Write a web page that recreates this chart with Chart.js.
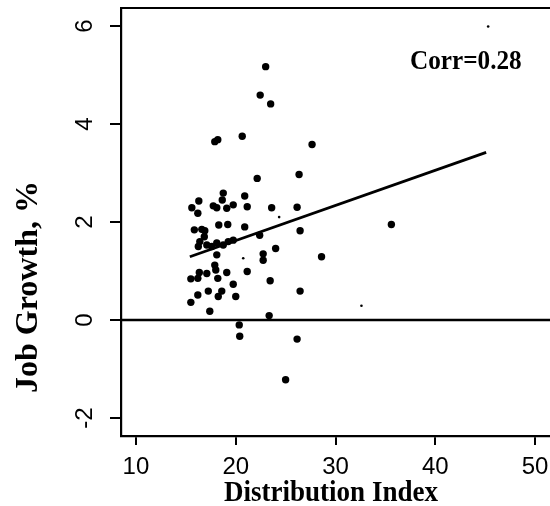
<!DOCTYPE html>
<html>
<head>
<meta charset="utf-8">
<script src="https://cdn.jsdelivr.net/npm/chart.js@4.4.1/dist/chart.umd.min.js"></script>
<style>
  html, body { margin: 0; padding: 0; background: #fff; overflow: hidden; }
  #wrap { width: 560px; height: 506px; }
</style>
</head>
<body>
<div id="wrap"><canvas id="chart" width="560" height="506"></canvas></div>
<script>
// distribution index vs job growth
const distIndex = [
  15.6, 16.3, 16.2, 17.75, 18.1, 18.75, 18.65, 19.1, 19.75, 15.85,
  16.6, 16.9, 18.3, 19.2, 16.85, 16.4, 16.25, 17.1, 17.6, 18.1,
  18.75, 19.25, 19.75, 18.1, 17.9, 18.0, 19.1, 16.35, 16.2, 17.1,
  15.5, 18.2, 16.2, 17.25, 18.6, 18.25, 19.75, 15.5, 17.4, 20.0,
  20.9, 21.15, 23.6, 26.15, 20.9, 26.45, 22.4, 24.0, 22.75, 22.75,
  28.6, 21.15, 23.45, 26.45, 23.35, 20.35, 20.4, 26.15, 25.0, 35.6,
  23.0, 22.45, 23.5, 20.65, 17.9, 18.2, 27.65, 22.15, 26.35
];
const jobGrowth = [
  2.29, 2.43, 2.18, 2.33, 2.29, 2.59, 2.45, 2.28, 2.35, 1.84,
  1.85, 1.82, 1.94, 1.95, 1.70, 1.60, 1.50, 1.53, 1.50, 1.57,
  1.53, 1.60, 1.63, 1.33, 1.12, 1.02, 0.97, 0.97, 0.85, 0.95,
  0.84, 0.85, 0.51, 0.59, 0.59, 0.48, 0.73, 0.36, 0.18, 0.48,
  2.53, 2.31, 2.29, 2.30, 1.90, 1.82, 1.73, 1.46, 1.35, 1.22,
  1.29, 0.99, 0.80, 0.59, 0.09, -0.10, -0.33, -0.39, -1.22, 1.95,
  5.17, 4.59, 4.41, 3.75, 3.64, 3.68, 3.58, 2.89, 2.97
];
// faint specks
const speckIndex = [24.35, 20.75, 32.6, 45.3];
const speckGrowth = [2.10, 1.26, 0.29, 5.99];

const fitLineX = [15.4, 45.1];
const fitLineY = [1.29, 3.42];

const xTicks = [10, 20, 30, 40, 50];
const yTicks = [-2, 0, 2, 4, 6];
const xMin = 8.5, xMax = 52;
const yMin = -2.367, yMax = 6.367;

const corrLabel = "Corr=0.28";
const xTitle = "Distribution Index";
const yTitle = "Job Growth, %";

const toPoints = (xs, ys) => xs.map((x, i) => ({ x, y: ys[i] }));

const annotate = {
  id: "annotate",
  afterDraw(chart) {
    const { ctx, chartArea, scales } = chart;
    ctx.save();
    // top frame line
    ctx.strokeStyle = "#000";
    ctx.lineWidth = 2;
    ctx.beginPath();
    ctx.moveTo(chartArea.left - 1, chartArea.top);
    ctx.lineTo(chartArea.right, chartArea.top);
    ctx.stroke();

    ctx.fillStyle = "#000";
    // rotated y tick labels
    ctx.font = '24px "Liberation Sans Narrow", "Liberation Sans", Arial, sans-serif';
    ctx.textAlign = "center";
    ctx.textBaseline = "middle";
    yTicks.forEach((v) => {
      const py = scales.y.getPixelForValue(v);
      ctx.save();
      ctx.translate(85, py);
      ctx.rotate(-Math.PI / 2);
      ctx.fillText(String(v), 0, 0);
      ctx.restore();
    });

    // y title
    ctx.save();
    ctx.font = 'bold 32px "Liberation Serif", "Times New Roman", serif';
    ctx.translate(37, 287);
    ctx.rotate(-Math.PI / 2);
    ctx.textBaseline = "alphabetic";
    ctx.fillText(yTitle, 0, 0);
    ctx.restore();

    // x title
    ctx.save();
    ctx.font = 'bold 30px "Liberation Serif", "Times New Roman", serif';
    ctx.translate(331, 501);
    ctx.scale(0.9, 1);
    ctx.textBaseline = "alphabetic";
    ctx.fillText(xTitle, 0, 0);
    ctx.restore();

    // correlation note
    ctx.save();
    ctx.font = 'bold 28px "Liberation Serif", "Times New Roman", serif';
    ctx.translate(410, 69);
    ctx.scale(0.9, 1);
    ctx.textAlign = "left";
    ctx.textBaseline = "alphabetic";
    ctx.fillText(corrLabel, 0, 0);
    ctx.restore();

    ctx.restore();
  },
};

new Chart(document.getElementById("chart"), {
  type: "scatter",
  data: {
    datasets: [
      {
        data: toPoints(distIndex, jobGrowth),
        backgroundColor: "#000",
        borderWidth: 0,
        pointRadius: 3.7,
      },
      {
        data: toPoints(speckIndex, speckGrowth),
        backgroundColor: "#000",
        borderWidth: 0,
        pointRadius: 1.3,
      },
      {
        data: toPoints(fitLineX, fitLineY),
        showLine: true,
        borderColor: "#000",
        borderWidth: 2.8,
        pointRadius: 0,
      },
      {
        data: [{ x: xMin, y: 0 }, { x: xMax, y: 0 }],
        showLine: true,
        borderColor: "#000",
        borderWidth: 2.6,
        pointRadius: 0,
      },
    ],
  },
  options: {
    responsive: false,
    animation: false,
    devicePixelRatio: 1,
    layout: { padding: { top: 8, right: 5, left: 0, bottom: 0 } },
    plugins: { legend: { display: false }, tooltip: { enabled: false } },
    scales: {
      x: {
        type: "linear",
        min: xMin,
        max: xMax,
        afterBuildTicks: (scale) => { scale.ticks = xTicks.map((value) => ({ value })); },
        afterFit: (scale) => { scale.height = 70; },
        ticks: {
          color: "#000",
          padding: 8,
          maxRotation: 0,
          font: { family: '"Liberation Sans Narrow", "Liberation Sans", Arial, sans-serif', size: 24 },
        },
        grid: { drawOnChartArea: false, color: "#000", lineWidth: 2, tickLength: 9 },
        border: { color: "#000", width: 2.2 },
      },
      y: {
        type: "linear",
        min: yMin,
        max: yMax,
        afterBuildTicks: (scale) => { scale.ticks = yTicks.map((value) => ({ value })); },
        afterFit: (scale) => { scale.width = 121; },
        ticks: { display: false },
        grid: { drawOnChartArea: false, color: "#000", lineWidth: 2, tickLength: 11 },
        border: { color: "#000", width: 2.2 },
      },
    },
  },
  plugins: [annotate],
});
</script>
</body>
</html>
